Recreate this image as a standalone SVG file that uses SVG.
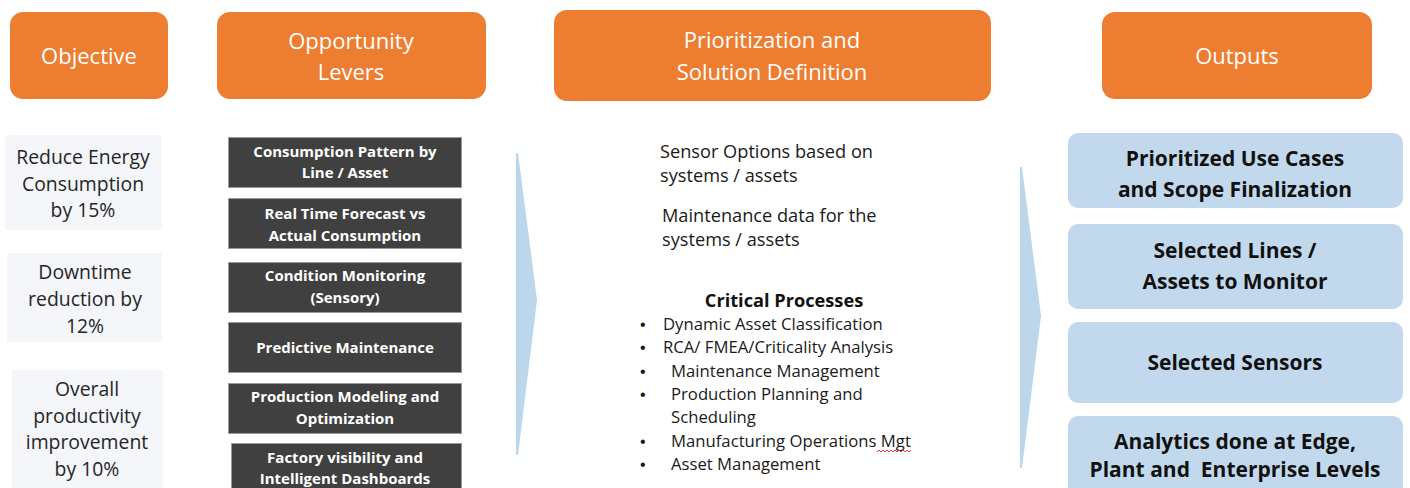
<svg xmlns="http://www.w3.org/2000/svg" width="1410" height="488" viewBox="0 0 1410 488">
<defs>
<style>
text{white-space:pre}
.hdr{fill:#ED7D31}
.ht{font-family:"Open Sans",Lato,sans-serif;font-size:22px;fill:#ffffff;text-anchor:middle}
.obj{fill:#f4f6f9}
.ot{font-family:"Open Sans",Lato,sans-serif;font-size:19.4px;fill:#262626;text-anchor:middle}
.lev{fill:#404040;stroke:#9a9a9a;stroke-width:1}
.lt{font-family:"Open Sans",Lato,sans-serif;font-size:15px;font-weight:bold;fill:#ffffff;text-anchor:middle}
.mt{font-family:"Open Sans",Lato,sans-serif;font-size:18.2px;fill:#1a1a1a}
.bt{font-family:"Open Sans",Lato,sans-serif;font-size:16.7px;fill:#1a1a1a}
.bul{font-family:"Liberation Sans",sans-serif;font-size:16px;fill:#1a1a1a}
.out{fill:#c2d9ed}
.outt{font-family:"Open Sans",Lato,sans-serif;font-size:21px;font-weight:bold;fill:#111111;text-anchor:middle}
.chev{fill:#bcd6ec}
</style>
</defs>
<rect width="1410" height="488" fill="#ffffff"/>

<g id="hdr-objective"><rect class="hdr" x="10" y="12" width="158" height="87" rx="13"/><text class="ht" x="89" y="64">Objective</text></g>
<g id="hdr-levers"><rect class="hdr" x="217" y="12" width="269" height="87" rx="13"/><text class="ht" x="351" y="49">Opportunity</text><text class="ht" x="351" y="80">Levers</text></g>
<g id="hdr-prior"><rect class="hdr" x="554" y="10" width="437" height="91" rx="13"/><text class="ht" x="772" y="48">Prioritization and</text><text class="ht" x="772" y="80">Solution Definition</text></g>
<g id="hdr-outputs"><rect class="hdr" x="1102" y="12" width="270" height="87" rx="13"/><text class="ht" x="1237" y="64">Outputs</text></g>

<g id="obj-energy"><rect class="obj" x="5" y="135" width="157" height="95"/><text class="ot" x="83" y="164">Reduce Energy</text><text class="ot" x="83" y="191">Consumption</text><text class="ot" x="83" y="217">by 15%</text></g>
<g id="obj-downtime"><rect class="obj" x="7" y="253" width="155" height="89"/><text class="ot" x="85" y="279">Downtime</text><text class="ot" x="85" y="306">reduction by</text><text class="ot" x="85" y="333">12%</text></g>
<g id="obj-productivity"><rect class="obj" x="12" y="370" width="151" height="130"/><text class="ot" x="87" y="396">Overall</text><text class="ot" x="87" y="423">productivity</text><text class="ot" x="87" y="449">improvement</text><text class="ot" x="87" y="476">by 10%</text></g>

<g id="lev-1"><rect class="lev" x="228.5" y="137.5" width="233" height="50"/><text class="lt" x="345" y="157">Consumption Pattern by</text><text class="lt" x="345" y="178">Line / Asset</text></g>
<g id="lev-2"><rect class="lev" x="228.5" y="198.5" width="233" height="50"/><text class="lt" x="345" y="219">Real Time Forecast vs</text><text class="lt" x="345" y="241">Actual Consumption</text></g>
<g id="lev-3"><rect class="lev" x="228.5" y="262.5" width="233" height="50"/><text class="lt" x="345" y="281">Condition Monitoring</text><text class="lt" x="345" y="303">(Sensory)</text></g>
<g id="lev-4"><rect class="lev" x="228.5" y="322.5" width="233" height="50"/><text class="lt" x="345" y="353">Predictive Maintenance</text></g>
<g id="lev-5"><rect class="lev" x="228.5" y="383.5" width="233" height="50"/><text class="lt" x="345" y="402">Production Modeling and</text><text class="lt" x="345" y="424">Optimization</text></g>
<g id="lev-6"><rect class="lev" x="231.5" y="443.5" width="230" height="60"/><text class="lt" x="345" y="463">Factory visibility and</text><text class="lt" x="345" y="484">Intelligent Dashboards</text></g>

<g id="connectors">
<polygon class="chev" points="516,153 518,153 537,300 518,455 516,455"/>
<polygon class="chev" points="1020,167 1022,167 1041,316 1022,468 1020,468"/>
</g>

<g id="solution">
<text class="mt" x="660" y="158">Sensor Options based on</text>
<text class="mt" x="660" y="182">systems / assets</text>
<text class="mt" x="662" y="222">Maintenance data for the</text>
<text class="mt" x="662" y="246">systems / assets</text>
<text x="784" y="307" font-family="'Open Sans',Lato,sans-serif" font-size="18.2px" font-weight="bold" fill="#111111" text-anchor="middle">Critical Processes</text>
<g>
<text class="bul" x="640" y="330">•</text><text class="bt" x="663" y="330">Dynamic Asset Classification</text>
<text class="bul" x="640" y="353">•</text><text class="bt" x="663" y="353">RCA/ FMEA/Criticality Analysis</text>
<text class="bul" x="640" y="377">•</text><text class="bt" x="671" y="377">Maintenance Management</text>
<text class="bul" x="640" y="400">•</text><text class="bt" x="671" y="400">Production Planning and</text>
<text class="bt" x="671" y="423">Scheduling</text>
<text class="bul" x="640" y="447">•</text><text class="bt" x="671" y="447">Manufacturing Operations Mgt</text>
<text class="bul" x="640" y="470">•</text><text class="bt" x="671" y="470">Asset Management</text>
</g>
<path d="M877,452 l2,-2 l2,2 l2,-2 l2,2 l2,-2 l2,2 l2,-2 l2,2 l2,-2 l2,2 l2,-2 l2,2 l2,-2 l2,2 l2,-2 l2,2 l2,-2" fill="none" stroke="#e03030" stroke-width="0.9"/>
</g>

<g id="out-1"><rect class="out" x="1068" y="133" width="335" height="75" rx="10"/><text class="outt" x="1235" y="166">Prioritized Use Cases</text><text class="outt" x="1235" y="197">and Scope Finalization</text></g>
<g id="out-2"><rect class="out" x="1068" y="224" width="335" height="85" rx="10"/><text class="outt" x="1235" y="258">Selected Lines /</text><text class="outt" x="1235" y="289">Assets to Monitor</text></g>
<g id="out-3"><rect class="out" x="1068" y="322" width="335" height="81" rx="10"/><text class="outt" x="1235" y="370">Selected Sensors</text></g>
<g id="out-4"><rect class="out" x="1068" y="416" width="335" height="90" rx="10"/><text class="outt" x="1235" y="449">Analytics done at Edge,</text><text class="outt" x="1235" y="477">Plant and  Enterprise Levels</text></g>
</svg>
